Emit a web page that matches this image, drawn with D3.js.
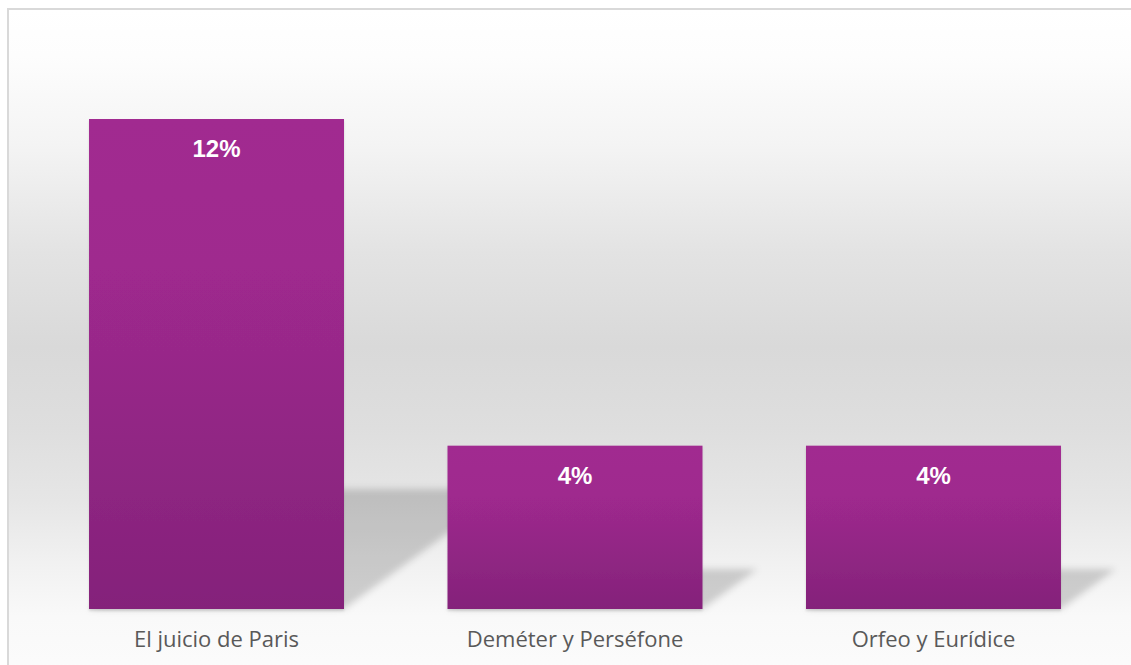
<!DOCTYPE html>
<html>
<head>
<meta charset="utf-8">
<script src="https://cdn.jsdelivr.net/npm/d3@7"></script>
<style>
  html, body { margin: 0; padding: 0; background: #ffffff; }
  svg { display: block; }
</style>
</head>
<body>
<svg id="chart" width="1131" height="665"></svg>
<script>
const categories = ["El juicio de Paris", "Deméter y Perséfone", "Orfeo y Eurídice"];
const values = [0.12, 0.04, 0.04];
const valueLabels = ["12%", "4%", "4%"];

const W = 1131, H = 665;
const svg = d3.select("#chart");
const defs = svg.append("defs");

// background gradient
const bg = defs.append("linearGradient").attr("id", "bgGrad")
  .attr("x1", 0).attr("y1", 0).attr("x2", 0).attr("y2", 1);
[[0, "#ffffff"], [0.07, "#fdfdfd"], [0.2, "#f4f4f4"], [0.36, "#e3e3e3"], [0.5, "#d9d9d9"],
 [0.62, "#dedede"], [0.73, "#e6e6e6"], [0.82, "#f1f1f1"], [0.9, "#f9f9f9"], [1, "#fcfcfc"]]
  .forEach(([o, c]) => bg.append("stop").attr("offset", o).attr("stop-color", c));

// bar gradient
const bgBar = defs.append("linearGradient").attr("id", "barGrad")
  .attr("x1", 0).attr("y1", 0).attr("x2", 0).attr("y2", 1);
[[0, "#a12a90"], [0.3, "#9f298e"], [0.65, "#912784"], [1, "#84217a"]]
  .forEach(([o, c]) => bgBar.append("stop").attr("offset", o).attr("stop-color", c));

// shadow blur
const f = defs.append("filter").attr("id", "shadowBlur")
  .attr("x", "-20%").attr("y", "-20%").attr("width", "140%").attr("height", "140%");
f.append("feGaussianBlur").attr("stdDeviation", 3.5);

const f2 = defs.append("filter").attr("id", "barShadow")
  .attr("x", "-5%").attr("y", "-5%").attr("width", "110%").attr("height", "110%");
f2.append("feDropShadow").attr("dx", 0).attr("dy", 2).attr("stdDeviation", 1.2)
  .attr("flood-color", "#000").attr("flood-opacity", 0.12);

// chart area background + border
svg.append("rect").attr("x", 8).attr("y", 9).attr("width", W + 10).attr("height", H + 10)
  .attr("fill", "url(#bgGrad)").attr("stroke", "#d9d9d9").attr("stroke-width", 2);

const x = d3.scaleBand().domain(categories).range([37.25, 1112.75])
  .paddingInner(0.2887).paddingOuter(0.1444);
const y = d3.scaleLinear().domain([0, 0.14]).range([609, 609 - 0.14 * (490 / 0.12)]);

const data = categories.map((c, i) => ({ c, v: values[i], label: valueLabels[i] }));

// perspective shadows
const shadowRatio = 0.245, shear = 1.37;
svg.append("g").selectAll("path").data(data).join("path")
  .attr("d", d => {
    const x0 = x(d.c), x1 = x(d.c) + x.bandwidth(), y0 = y(0);
    const sh = (y(0) - y(d.v)) * shadowRatio, sx = sh * shear;
    return `M${x0},${y0}L${x1},${y0}L${x1 + sx},${y0 - sh}L${x0 + sx},${y0 - sh}Z`;
  })
  .attr("fill", "#000").attr("fill-opacity", 0.17)
  .attr("filter", "url(#shadowBlur)");

// bars
svg.append("g").selectAll("rect").data(data).join("rect")
  .attr("x", d => x(d.c)).attr("y", d => y(d.v))
  .attr("width", x.bandwidth()).attr("height", d => y(0) - y(d.v))
  .attr("fill", "url(#barGrad)").attr("filter", "url(#barShadow)");

// value labels
svg.append("g").selectAll("text").data(data).join("text")
  .attr("x", d => x(d.c) + x.bandwidth() / 2).attr("y", d => y(d.v) + 38)
  .attr("text-anchor", "middle")
  .attr("font-family", "'Liberation Sans', Arial, sans-serif")
  .attr("font-weight", "bold").attr("font-size", 24).attr("fill", "#ffffff")
  .text(d => d.label);

// category axis labels
const xAxis = d3.axisBottom(x).tickSize(0).tickPadding(0);
const ax = svg.append("g").attr("transform", "translate(0,609)").call(xAxis);
ax.select(".domain").remove();
ax.selectAll("text")
  .attr("dy", null).attr("y", 38)
  .attr("font-family", "'Open Sans', sans-serif")
  .attr("font-size", 22).attr("fill", "#595959");
</script>
</body>
</html>
